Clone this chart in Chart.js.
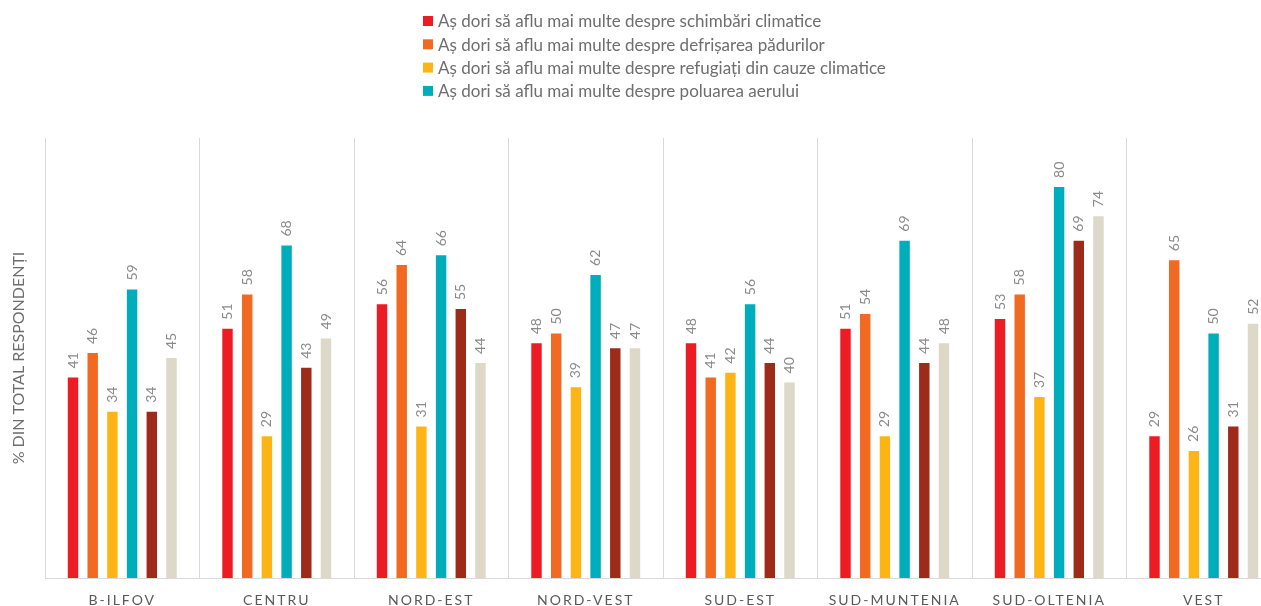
<!DOCTYPE html>
<html>
<head>
<meta charset="utf-8">
<script src="https://cdn.jsdelivr.net/npm/chart.js@4.4.1/dist/chart.umd.min.js"></script>
<style>
  html, body { margin:0; padding:0; background:#fff; overflow:hidden; }
  #wrap { width:1261px; height:606px; overflow:hidden; position:relative; }
  #c { display:block; }
</style>
</head>
<body>
<div id="wrap"><canvas id="c" width="1281" height="620" style="width:1281px;height:620px"></canvas></div>
<script>
// regions (x axis)
const regions = ['B-ILFOV', 'CENTRU', 'NORD-EST', 'NORD-VEST', 'SUD-EST', 'SUD-MUNTENIA', 'SUD-OLTENIA', 'VEST'];

// series labels (only the first four appear in the legend)
const seriesLabels = [
  'Aș dori să aflu mai multe despre schimbări climatice',
  'Aș dori să aflu mai multe despre defrișarea pădurilor',
  'Aș dori să aflu mai multe despre refugiați din cauze climatice',
  'Aș dori să aflu mai multe despre poluarea aerului',
  'Seria 5',
  'Seria 6'
];

// % din total respondenți, per region
const schimbari   = [41, 51, 56, 48, 48, 51, 53, 29];
const defrisare   = [46, 58, 64, 50, 41, 54, 58, 65];
const refugiati   = [34, 29, 31, 39, 42, 29, 37, 26];
const poluare     = [59, 68, 66, 62, 56, 69, 80, 50];
const seria5      = [34, 43, 55, 47, 44, 44, 69, 31];
const seria6      = [45, 49, 44, 47, 40, 48, 74, 52];

const colors = ['#ED1C24', '#F26A22', '#FDB515', '#00ADBA', '#9E2A1A', '#DDD8C8'];
const yTitle = '% DIN TOTAL RESPONDENȚI';
const FONT = 'Lato, "Open Sans", sans-serif';

const seriesData = [schimbari, defrisare, refugiati, poluare, seria5, seria6];
const datasets = seriesData.map((d, i) => ({
  label: seriesLabels[i],
  data: d,
  backgroundColor: colors[i],
  categoryPercentage: 0.765,
  barPercentage: 0.53
}));

// rotated value labels above bars, then letter spacing for the x labels drawn after
const valueLabels = {
  id: 'valueLabels',
  afterDatasetsDraw(chart) {
    const ctx = chart.ctx;
    ctx.save();
    ctx.font = '14px ' + FONT;
    ctx.fillStyle = '#8a8a8a';
    ctx.textAlign = 'left';
    ctx.textBaseline = 'middle';
    chart.data.datasets.forEach((ds, i) => {
      chart.getDatasetMeta(i).data.forEach((bar, j) => {
        ctx.save();
        ctx.translate(bar.x, bar.y - 9);
        ctx.rotate(-Math.PI / 2);
        ctx.fillText(String(ds.data[j]), 0, 0);
        ctx.restore();
      });
    });
    ctx.restore();
    ctx.letterSpacing = '2px';
  },
  afterDraw(chart) {
    const ctx = chart.ctx;
    ctx.letterSpacing = '0px';
    // legend: first four series, stacked vertically
    ctx.save();
    ctx.font = '17px ' + FONT;
    ctx.textBaseline = 'middle';
    ctx.textAlign = 'left';
    for (let i = 0; i < 4; i++) {
      const y = 21 + i * 23.3;
      ctx.fillStyle = colors[i];
      ctx.fillRect(423, y - 5, 10, 10);
      ctx.fillStyle = '#6e6e6e';
      ctx.fillText(seriesLabels[i], 438, y + 1);
    }
    ctx.restore();
  }
};

new Chart(document.getElementById('c'), {
  type: 'bar',
  data: { labels: regions, datasets },
  options: {
    responsive: false,
    animation: false,
    layout: { padding: { top: 138, left: 0, right: 0, bottom: 0 } },
    plugins: { legend: { display: false }, tooltip: { enabled: false } },
    scales: {
      x: {
        grid: { color: '#d9d9d9', drawTicks: false, offset: true },
        border: { color: '#d9d9d9' },
        ticks: { z: 1, color: '#595959', padding: 14, font: { size: 14, family: FONT } },
        afterFit: s => { s.height = 42; }
      },
      y: {
        min: 0, max: 90,
        grid: { display: false },
        border: { display: false },
        ticks: { display: false },
        title: { display: true, text: yTitle, color: '#6e6e6e', padding: { top: 9, bottom: 0 }, font: { size: 16, family: FONT } },
        afterFit: s => { s.width = 45; }
      }
    }
  },
  plugins: [valueLabels]
});
</script>
</body>
</html>
